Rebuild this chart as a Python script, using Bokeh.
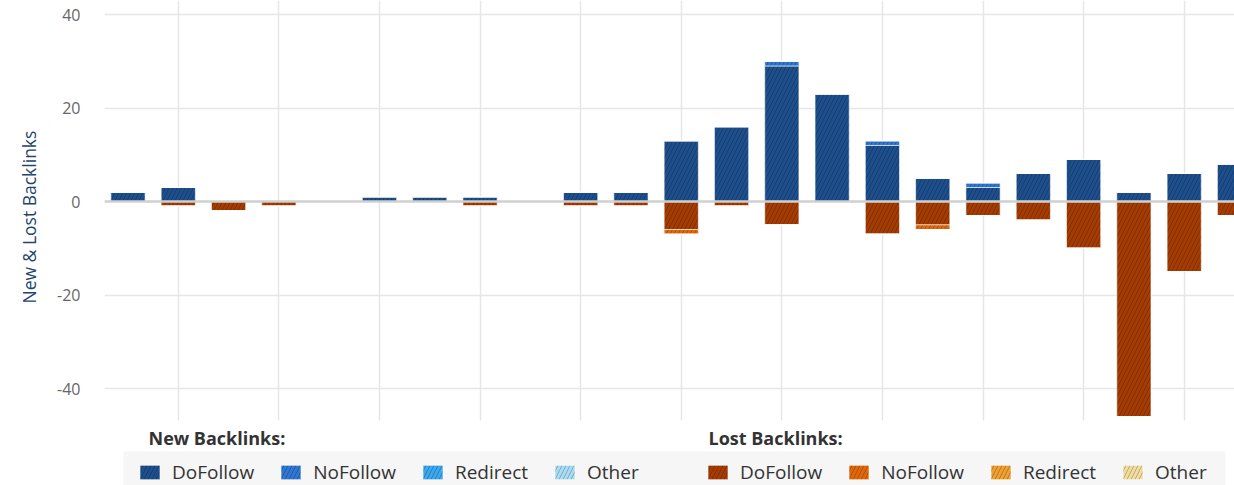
from bokeh.plotting import figure
from bokeh.models import (Range1d, FixedTicker, Span, Legend, LegendItem,
                          ColumnDataSource, Label, BoxAnnotation, Title)
from bokeh.embed import file_html
from bokeh.resources import INLINE

# ---------------- data ----------------
periods = list(range(23))
new_dofollow = [2, 3, 0, 0, 0, 1, 1, 1, 0, 2, 2, 13, 16, 29, 23, 12, 5, 3, 6, 9, 2, 6, 8]
new_nofollow = [0, 0, 0, 0, 0, 0, 0, 0, 0, 0, 0, 0, 0, 1, 0, 1, 0, 1, 0, 0, 0, 0, 0]
new_redirect = [0] * 23
new_other = [0] * 23
lost_dofollow = [0, 1, 2, 1, 0, 0, 0, 1, 0, 1, 1, 6, 1, 5, 0, 7, 5, 3, 4, 10, 46, 15, 3]
lost_nofollow = [0, 0, 0, 0, 0, 0, 0, 0, 0, 0, 0, 1, 0, 0, 0, 0, 1, 0, 0, 0, 0, 0, 0]
lost_redirect = [0] * 23
lost_other = [0] * 23

link_types = ["DoFollow", "NoFollow", "Redirect", "Other"]
group_titles = ["New Backlinks:", "Lost Backlinks:"]
y_title = "New & Lost Backlinks"
new_colors = ["#1d4f8d", "#2f77d2", "#3ba8f0", "#a8dcf3"]
lost_colors = ["#a53c02", "#e0680a", "#f0a032", "#f2dc9e"]
y_ticks = [-40, -20, 0, 20, 40]
grid_periods = [1, 3, 5, 7, 9, 11, 13, 15, 17, 19, 21]

FONT = "Open Sans"
PLOT_BOTTOM = -46.84   # lower end of the bar area; legend lives below it

src = ColumnDataSource(dict(
    x=periods,
    n_do=new_dofollow, n_no=new_nofollow, n_re=new_redirect, n_ot=new_other,
    l_do=[-v for v in lost_dofollow], l_no=[-v for v in lost_nofollow],
    l_re=[-v for v in lost_redirect], l_ot=[-v for v in lost_other],
))

# ---------------- chart ----------------
p = figure(width=1234, height=485,
           x_range=Range1d(-0.467, 22.0), y_range=Range1d(-60.75, 43.0),
           output_backend="svg", toolbar_location=None,
           x_axis_location=None, y_axis_location="left",
           min_border_left=104, min_border_right=0,
           min_border_top=0, min_border_bottom=0)
p.outline_line_color = None
p.background_fill_color = "white"

p.yaxis.ticker = FixedTicker(ticks=y_ticks)
p.yaxis.major_label_overrides = {t: str(t) for t in y_ticks}
p.yaxis.axis_line_color = None
p.yaxis.major_tick_line_color = None
p.yaxis.minor_tick_line_color = None
p.yaxis.major_tick_out = 0
p.yaxis.major_label_standoff = 24
p.yaxis.major_label_text_font = FONT
p.yaxis.major_label_text_font_size = "16px"
p.yaxis.major_label_text_color = "#666666"

# y-axis title, centred on the bar area (not on the legend strip)
p.add_layout(Title(text=y_title, align="left", offset=182, standoff=28,
                   text_font=FONT, text_font_style="normal",
                   text_font_size="17.5px", text_color="#22456e"), "left")

p.ygrid.grid_line_color = "#e6e6e6"
p.ygrid.grid_line_width = 1.5
p.xgrid.ticker = FixedTicker(ticks=grid_periods)
p.xgrid.grid_line_color = "#e6e6e6"
p.xgrid.grid_line_width = 1.5

hatch = dict(hatch_pattern="/", hatch_color="black", hatch_alpha=0.22,
             hatch_scale=8, hatch_weight=1)

new_r = p.vbar_stack(["n_do", "n_no", "n_re", "n_ot"], x="x", width=0.68,
                     source=src, fill_color=new_colors, line_color="white",
                     line_width=1, line_alpha=0.6, **hatch)
lost_r = p.vbar_stack(["l_do", "l_no", "l_re", "l_ot"], x="x", width=0.68,
                      source=src, fill_color=lost_colors, line_color="white",
                      line_width=1, line_alpha=0.6, **hatch)

p.add_layout(Span(location=0, dimension="width", line_color="#d0d0d0",
                  line_width=2.5, level="overlay"))

# ---------------- legend area (below the bar area) ----------------
# white cover so the vertical grid stops at the bottom of the bar area
p.add_layout(BoxAnnotation(top=PLOT_BOTTOM, fill_color="white", fill_alpha=1,
                           line_color=None))
# light grey band behind the legend items
p.add_layout(BoxAnnotation(left=19, right=1121, top=34,
                           left_units="screen", right_units="screen",
                           top_units="screen",
                           fill_color="#f6f6f6", fill_alpha=1,
                           line_color=None))

for title, xpos in zip(group_titles, [44, 604]):
    p.add_layout(Label(x=xpos, y=47.5, x_units="screen", y_units="screen",
                       text=title, text_font=FONT, text_font_style="bold",
                       text_font_size="18px", text_color="#333333",
                       text_baseline="middle"))

for rends, xpos in zip([new_r, lost_r], [33, 601]):
    items = [LegendItem(label=name, renderers=[r])
             for name, r in zip(link_types, rends)]
    p.add_layout(Legend(items=items, orientation="horizontal",
                        location=(xpos, 0),
                        glyph_width=25, glyph_height=18, label_standoff=10,
                        spacing=24, padding=0, margin=0,
                        background_fill_alpha=0, border_line_color=None,
                        label_text_font=FONT, label_text_font_size="19px",
                        label_text_color="#333333", label_height=18))

open("out.html", "w").write(file_html(p, INLINE))
